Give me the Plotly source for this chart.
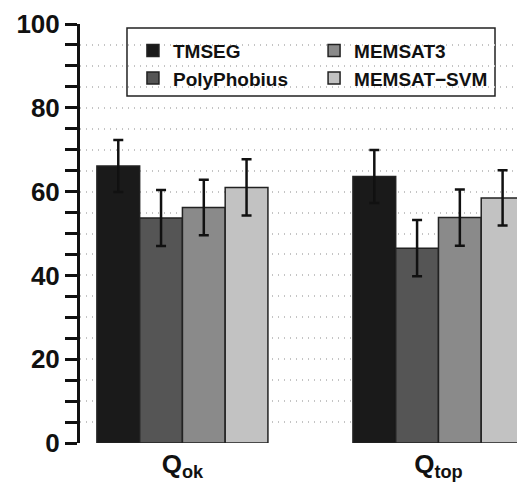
import plotly.graph_objects as go

categories = ["Q<sub>ok</sub>", "Q<sub>top</sub>"]
methods = ["TMSEG", "PolyPhobius", "MEMSAT3", "MEMSAT−SVM"]
values = {
    "TMSEG": [66.1, 63.6],
    "PolyPhobius": [53.7, 46.5],
    "MEMSAT3": [56.2, 53.8],
    "MEMSAT−SVM": [61.0, 58.5],
}
errors = {
    "TMSEG": [6.2, 6.3],
    "PolyPhobius": [6.7, 6.7],
    "MEMSAT3": [6.6, 6.7],
    "MEMSAT−SVM": [6.7, 6.6],
}
colors = {
    "TMSEG": "#1a1a1a",
    "PolyPhobius": "#555555",
    "MEMSAT3": "#8a8a8a",
    "MEMSAT−SVM": "#c2c2c2",
}
legend_of = {"TMSEG": "legend", "PolyPhobius": "legend", "MEMSAT3": "legend2", "MEMSAT−SVM": "legend2"}

fig = go.Figure()
for m in methods:
    fig.add_trace(go.Bar(
        x=categories, y=values[m], name=m,
        marker=dict(color=colors[m], line=dict(color="#222222", width=1.5)),
        error_y=dict(type="data", array=errors[m], color="#111111", thickness=2.5, width=5),
        legend=legend_of[m],
    ))

tickvals = list(range(0, 101, 5))
ticktext = [str(v) if v % 20 == 0 else "" for v in tickvals]

legend_font = dict(size=19, weight="bold", family="Liberation Sans, Arial, sans-serif", color="#111111")
leg_common = dict(
    orientation="v", yanchor="top", xanchor="left", y=0.982,
    bgcolor="rgba(0,0,0,0)", borderwidth=0, font=legend_font, traceorder="normal",
    tracegroupgap=0,
)

fig.update_layout(
    width=517, height=475,
    margin=dict(l=72, r=0, t=16, b=40),
    paper_bgcolor="white", plot_bgcolor="white",
    barmode="group", bargap=0.332, bargroupgap=0,
    font=dict(family="Liberation Sans, Arial, sans-serif", color="#111111"),
    showlegend=True,
    legend=dict(x=0.119, **leg_common),
    legend2=dict(x=0.526, **leg_common),
    shapes=[dict(
        type="rect", xref="paper", yref="paper",
        x0=0.1056, x1=0.9326, y0=0.828, y1=0.9905,
        line=dict(color="#222222", width=1.5), fillcolor="white", layer="below",
    )],
    xaxis=dict(
        range=[-0.4, 1.338], showline=False, showgrid=False, ticks="",
        tickfont=dict(size=26, weight="bold"), zeroline=False, automargin=False,
        ticklabelstandoff=3,
    ),
    yaxis=dict(
        range=[0, 100], tickvals=tickvals, ticktext=ticktext,
        ticks="outside", ticklen=12, tickwidth=3, tickcolor="#111111",
        showline=True, linewidth=3, linecolor="#111111",
        showgrid=True, gridcolor="#c4c4c4", griddash="1px,5px", gridwidth=1.5,
        zeroline=False, tickfont=dict(size=26, weight="bold"), automargin=False,
    ),
)

fig.write_html("out.html")
